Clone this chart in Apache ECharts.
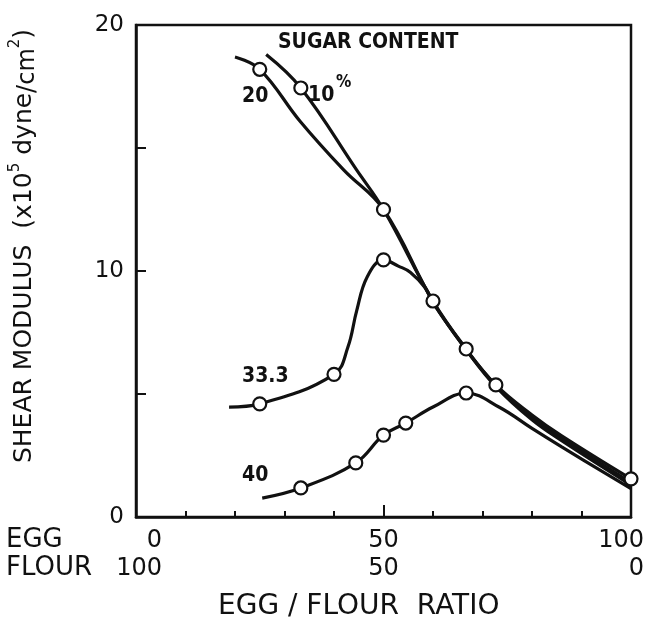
<!DOCTYPE html>
<html>
<head>
<meta charset="utf-8">
<script src="https://cdn.jsdelivr.net/npm/echarts@6/dist/echarts.min.js"></script>
<style>
  html, body { margin: 0; padding: 0; background: #fff; }
  #chart { width: 648px; height: 626px; }
</style>
</head>
<body>
<div id="chart"></div>
<script>
// Shear modulus vs. egg/flour ratio for four sugar contents.
// Each curve: egg share (%), modulus (x10^5 dyne/cm^2), and whether a measured point is marked.
const egg10 = [26.3, 33.3, 44.6, 50, 60, 66.7, 72.7, 80, 86, 100];
const mod10 = [18.8, 17.44, 14.1, 12.5, 8.78, 6.83, 5.37, 4.15, 3.3, 1.55];
const dot10 = [0, 1, 0, 1, 1, 1, 1, 0, 0, 1];

const egg20 = [20, 25, 33.1, 42, 50, 60, 66.7, 72.7, 80, 86, 100];
const mod20 = [18.7, 18.2, 16.1, 14.1, 12.5, 8.75, 6.8, 5.35, 4.05, 3.2, 1.4];
const dot20 = [0, 1, 0, 0, 0, 0, 0, 0, 0, 0, 0];

const egg33 = [18.8, 25, 40, 42.8, 44.6, 46.7, 50, 53, 55.4, 58.5, 60, 66.7, 72.7, 80, 86, 100];
const mod33 = [4.47, 4.6, 5.8, 6.9, 8.4, 9.76, 10.45, 10.2, 9.95, 9.3, 8.7, 6.8, 5.3, 3.95, 3.1, 1.3];
const dot33 = [0, 1, 1, 0, 0, 0, 1, 0, 0, 0, 0, 0, 0, 0, 0, 0];

const egg40 = [25.5, 33.3, 44.4, 50, 54.5, 60, 66.7, 73.5, 80, 86, 100];
const mod40 = [0.77, 1.18, 2.2, 3.33, 3.82, 4.47, 5.04, 4.45, 3.6, 2.85, 1.15];
const dot40 = [0, 1, 1, 1, 1, 0, 1, 0, 0, 0, 0];

// Axis ticks and their labels
const eggTicks = [0, 50, 100];
const eggLabels = ['0', '50', '100'];
const flourLabels = ['100', '50', '0'];
const yTicks = [0, 10, 20];
const yLabels = ['0', '10', '20'];

const INK = '#111';
const FONT = '"DejaVu Sans", sans-serif';
const COND = '"DejaVu Sans Condensed", "DejaVu Sans", sans-serif';

function points(xs, ys, dots) {
  return xs.map((x, i) => ({
    value: [x, ys[i]],
    symbol: dots[i] ? 'circle' : 'none'
  }));
}

function curve(name, xs, ys, dots, z) {
  return {
    name: name,
    type: 'line',
    z: z,
    data: points(xs, ys, dots),
    smooth: 0.4,
    symbolSize: 13,
    showAllSymbol: true,
    lineStyle: { color: INK, width: 3.2 },
    itemStyle: { color: '#fff', borderColor: INK, borderWidth: 2.2 },
    emphasis: { disabled: true },
    animation: false
  };
}

const chart = echarts.init(document.getElementById('chart'), null, { renderer: 'canvas' });

chart.setOption({
  backgroundColor: '#fff',
  animation: false,
  grid: {
    left: 136, right: 17, top: 25, bottom: 109,
    outerBoundsMode: 'none',
    containLabel: false,
    show: true, borderColor: INK, borderWidth: 2.5, backgroundColor: 'transparent'
  },
  xAxis: [{
    type: 'value', min: 0, max: 100, interval: 10,
    splitLine: { show: false },
    axisLine: { show: true, lineStyle: { color: INK, width: 2.5 } },
    axisTick: { show: true, inside: true, length: 6, lineStyle: { color: INK, width: 2 } },
    axisLabel: {
      show: true, margin: 10, color: INK, fontFamily: FONT, fontSize: 24, lineHeight: 28,
      formatter: function (v) {
        const i = eggTicks.indexOf(v);
        if (i < 0) return '';
        const s = ['a', 'b', 'c'][i];
        return '{' + s + '|' + eggLabels[i] + '}\n{' + s + '|' + flourLabels[i] + '}';
      },
      rich: {
        a: { width: 40, align: 'right', padding: [0, 0, 0, 12], fontSize: 24, lineHeight: 28, fontFamily: FONT, color: INK },
        b: { width: 40, align: 'center', fontSize: 24, lineHeight: 28, fontFamily: FONT, color: INK },
        c: { width: 40, align: 'right', padding: [0, 14, 0, 0], fontSize: 24, lineHeight: 28, fontFamily: FONT, color: INK }
      }
    }
  }, {
    // longer tick at the 50/50 mark
    type: 'value', min: 0, max: 100, position: 'bottom',
    splitLine: { show: false },
    axisLine: { show: false },
    axisLabel: { show: false },
    axisTick: { show: true, inside: true, length: 12, customValues: [50], lineStyle: { color: INK, width: 2 } }
  }],
  yAxis: {
    type: 'value', min: 0, max: 20, interval: 5,
    splitLine: { show: false },
    axisLine: { show: true, lineStyle: { color: INK, width: 2.5 } },
    axisTick: { show: true, inside: true, length: 10, lineStyle: { color: INK, width: 2 } },
    axisLabel: {
      margin: 12, color: INK, fontFamily: FONT, fontSize: 23,
      formatter: function (v) {
        const i = yTicks.indexOf(v);
        return i < 0 ? '' : yLabels[i];
      }
    },
    name: '{t|SHEAR MODULUS  (x10}{sup|5}{t| dyne}{sub|/cm}{sup|2}{t|)}',
    nameLocation: 'middle',
    nameGap: 96,
    nameRotate: 90,
    nameTextStyle: {
      color: INK, fontFamily: FONT, fontSize: 25,
      padding: [0, 0, 0, 50],
      rich: {
        t: { fontFamily: FONT, fontSize: 25, lineHeight: 32, color: INK, verticalAlign: 'middle' },
        sup: { fontFamily: FONT, fontSize: 15, lineHeight: 15, color: INK, verticalAlign: 'top' },
        sub: { fontFamily: FONT, fontSize: 24, lineHeight: 24, color: INK, verticalAlign: 'bottom' }
      }
    }
  },
  series: [
    curve('40', egg40, mod40, dot40, 2),
    curve('33.3', egg33, mod33, dot33, 3),
    curve('20', egg20, mod20, dot20, 4),
    curve('10', egg10, mod10, dot10, 5)
  ],
  graphic: [
    { type: 'text', left: 278, top: 32, style: { text: 'SUGAR CONTENT', font: 'bold 21px ' + COND, fill: INK } },
    { type: 'text', left: 242, top: 86, style: { text: '20', font: 'bold 21px ' + COND, fill: INK } },
    { type: 'text', left: 308, top: 85, style: { text: '10', font: 'bold 21px ' + COND, fill: INK } },
    { type: 'text', left: 336, top: 74, style: { text: '%', font: 'bold 17px ' + COND, fill: INK } },
    { type: 'text', left: 242, top: 366, style: { text: '33.3', font: 'bold 21px ' + COND, fill: INK } },
    { type: 'text', left: 242, top: 465, style: { text: '40', font: 'bold 21px ' + COND, fill: INK } },
    { type: 'text', left: 6, top: 527, style: { text: 'EGG', font: '26px ' + FONT, fill: INK } },
    { type: 'text', left: 6, top: 555, style: { text: 'FLOUR', font: '26px ' + FONT, fill: INK } },
    { type: 'text', left: 218, top: 593, style: { text: 'EGG / FLOUR  RATIO', font: '28px ' + FONT, fill: INK } }
  ]
});
</script>
</body>
</html>
